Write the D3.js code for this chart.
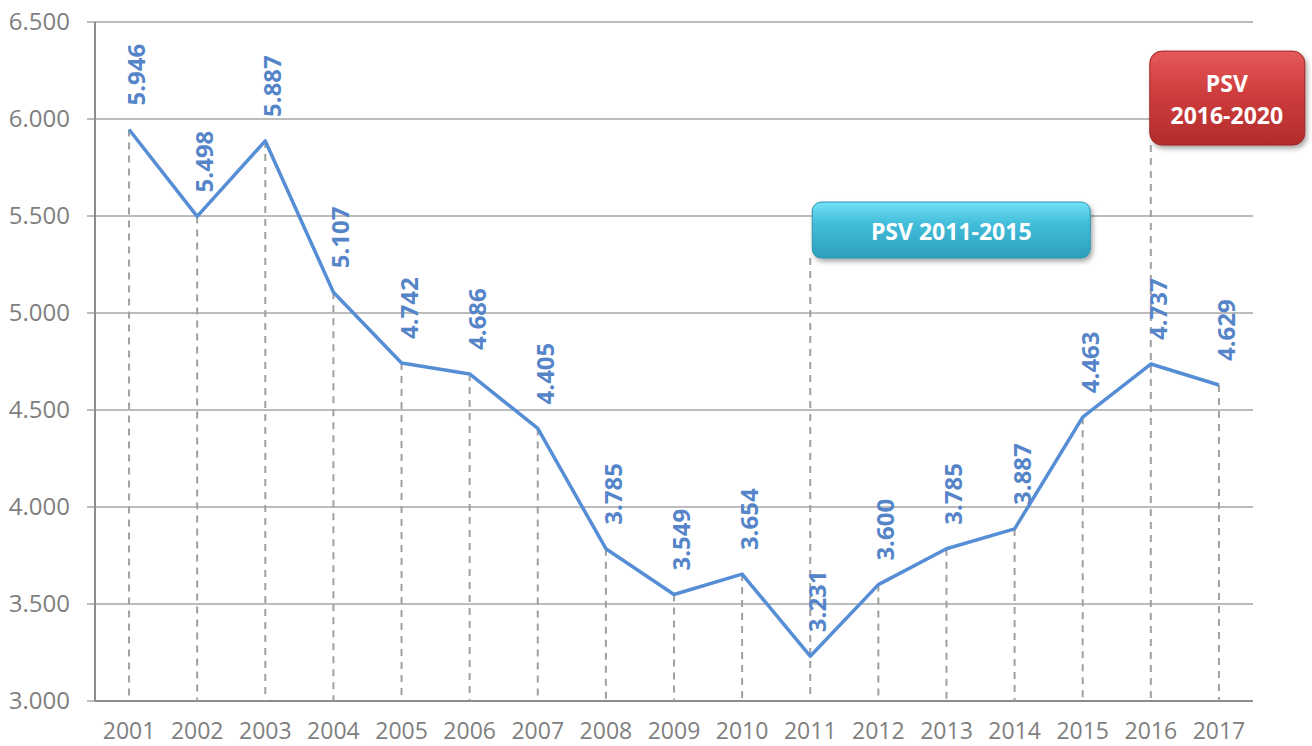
<!DOCTYPE html>
<html>
<head>
<meta charset="utf-8">
<script src="https://cdn.jsdelivr.net/npm/d3@7"></script>
<style>
  body { margin: 0; background: #fff; }
  svg text { font-family: 'Open Sans', 'Liberation Sans', sans-serif; }
</style>
</head>
<body>
<div id="chart"></div>
<script>
let years = ['2001', '2002', '2003', '2004', '2005', '2006', '2007', '2008', '2009',
  '2010', '2011', '2012', '2013', '2014', '2015', '2016', '2017']
let values = [5946, 5498, 5887, 5107, 4742, 4686, 4405, 3785, 3549,
  3654, 3231, 3600, 3785, 3887, 4463, 4737, 4629]
let yTicks = [3000, 3500, 4000, 4500, 5000, 5500, 6000, 6500]
let periods = [
  { start: '2011', lines: ['PSV 2011-2015'], top: 5572, kind: 'blue' },
  { start: '2016', lines: ['PSV', '2016-2020'], top: 6350, kind: 'red' }
]

let margin = { top: 22, left: 95, right: 59, bottom: 45 }
let width = 1312 - margin.left - margin.right
let height = 746 - margin.top - margin.bottom

let svg = d3
  .select('#chart')
  .append('svg')
  .attr('width', 1312)
  .attr('height', 746)

let defs = svg.append('defs')

let blueGrad = defs.append('linearGradient').attr('id', 'blueGrad')
  .attr('x1', 0).attr('y1', 0).attr('x2', 0).attr('y2', 1)
blueGrad.append('stop').attr('offset', '0%').attr('stop-color', '#72e0f5')
blueGrad.append('stop').attr('offset', '40%').attr('stop-color', '#40bcd9')
blueGrad.append('stop').attr('offset', '100%').attr('stop-color', '#2d9fbb')

let redGrad = defs.append('linearGradient').attr('id', 'redGrad')
  .attr('x1', 0).attr('y1', 0).attr('x2', 0).attr('y2', 1)
redGrad.append('stop').attr('offset', '0%').attr('stop-color', '#e65a5a')
redGrad.append('stop').attr('offset', '40%').attr('stop-color', '#d23f3f')
redGrad.append('stop').attr('offset', '100%').attr('stop-color', '#b22c2c')

let shadow = defs.append('filter').attr('id', 'shadow')
  .attr('x', '-10%').attr('y', '-10%').attr('width', '125%').attr('height', '140%')
shadow.append('feDropShadow')
  .attr('dx', 2).attr('dy', 3).attr('stdDeviation', 2.5)
  .attr('flood-color', '#000').attr('flood-opacity', 0.35)

let g = svg.append('g')
  .attr('transform', 'translate(' + margin.left + ',' + margin.top + ')')

let xPositionScale = d3.scaleBand().domain(years).range([0, width])
let yPositionScale = d3.scaleLinear().domain([3000, 6500]).range([height, 0])

let cx = d => xPositionScale(d) + xPositionScale.bandwidth() / 2

// gridlines
g.selectAll('.grid')
  .data(yTicks)
  .enter()
  .append('line')
  .attr('class', 'grid')
  .attr('x1', -8)
  .attr('x2', width)
  .attr('y1', d => yPositionScale(d))
  .attr('y2', d => yPositionScale(d))
  .attr('stroke', '#a6a6a6')
  .attr('stroke-width', 1.5)

// y axis
let yAxis = d3.axisLeft(yPositionScale)
  .tickValues(yTicks)
  .tickSize(8)
  .tickFormat(d => d3.format('.3f')(d / 1000))
g.append('g')
  .attr('class', 'y-axis')
  .call(yAxis)
  .call(s => s.select('.domain').remove())
  .call(s => s.selectAll('.tick line').remove())
  .call(s => s.selectAll('text')
    .attr('x', -25)
    .attr('fill', '#7f7f7f')
    .attr('font-size', 24))

g.append('line')
  .attr('x1', 0).attr('x2', 0)
  .attr('y1', 0).attr('y2', height)
  .attr('stroke', '#8c8c8c')
  .attr('stroke-width', 2)

// x axis labels
let xAxis = d3.axisBottom(xPositionScale).tickSize(0).tickPadding(22)
g.append('g')
  .attr('transform', 'translate(0,' + height + ')')
  .call(xAxis)
  .call(s => s.select('.domain').remove())
  .call(s => s.selectAll('text')
    .attr('fill', '#7f7f7f')
    .attr('font-size', 23))

g.append('line')
  .attr('x1', 0).attr('x2', width)
  .attr('y1', height).attr('y2', height)
  .attr('stroke', '#8c8c8c')
  .attr('stroke-width', 2)

// drop lines
let boxH = { blue: 56, red: 94 }
let dropTop = (d, i) => {
  let p = periods.find(p => p.start === d)
  return p ? yPositionScale(p.top) + boxH[p.kind] : yPositionScale(values[i])
}
g.selectAll('.drop')
  .data(years)
  .enter()
  .append('line')
  .attr('class', 'drop')
  .attr('x1', d => cx(d))
  .attr('x2', d => cx(d))
  .attr('y1', (d, i) => dropTop(d, i))
  .attr('y2', height)
  .attr('stroke', '#a0a0a0')
  .attr('stroke-width', 2)
  .attr('stroke-dasharray', '7,6')

// the line
let line = d3.line()
  .x((d, i) => cx(years[i]))
  .y(d => yPositionScale(d))

g.append('path')
  .datum(values)
  .attr('d', line)
  .attr('fill', 'none')
  .attr('stroke', '#558ed5')
  .attr('stroke-width', 3.5)
  .attr('stroke-linejoin', 'round')

// data labels
g.selectAll('.label')
  .data(values)
  .enter()
  .append('text')
  .attr('class', 'label')
  .attr('transform', (d, i) => 'translate(' + (cx(years[i]) + 16) + ',' + (yPositionScale(d) - 24) + ') rotate(-90)')
  .attr('font-size', 24)
  .attr('font-weight', 'bold')
  .attr('fill', '#5585c8')
  .text(d => d3.format('.3f')(d / 1000))

// period boxes
let blue = periods[0]
let bx = cx(blue.start) + 2
let bg = g.append('g').attr('transform', 'translate(' + bx + ',' + yPositionScale(blue.top) + ')')
bg.append('rect')
  .attr('width', 278).attr('height', boxH.blue).attr('rx', 9)
  .attr('fill', 'url(#blueGrad)')
  .attr('stroke', '#2b94ad').attr('stroke-width', 1)
  .attr('filter', 'url(#shadow)')
bg.append('text')
  .attr('x', 139).attr('y', 29)
  .attr('text-anchor', 'middle')
  .attr('dominant-baseline', 'central')
  .attr('fill', '#fff')
  .attr('font-weight', 'bold')
  .attr('font-size', 23)
  .text(blue.lines[0])

let red = periods[1]
let rx = cx(red.start) - 1
let rg = g.append('g').attr('transform', 'translate(' + rx + ',' + yPositionScale(red.top) + ')')
rg.append('rect')
  .attr('width', 155).attr('height', boxH.red).attr('rx', 12)
  .attr('fill', 'url(#redGrad)')
  .attr('stroke', '#9e2424').attr('stroke-width', 1)
  .attr('filter', 'url(#shadow)')
rg.selectAll('text')
  .data(red.lines)
  .enter()
  .append('text')
  .attr('x', 77)
  .attr('y', (d, i) => 32 + i * 32)
  .attr('text-anchor', 'middle')
  .attr('dominant-baseline', 'central')
  .attr('fill', '#fff')
  .attr('font-weight', 'bold')
  .attr('font-size', 23)
  .text(d => d)
</script>
</body>
</html>
